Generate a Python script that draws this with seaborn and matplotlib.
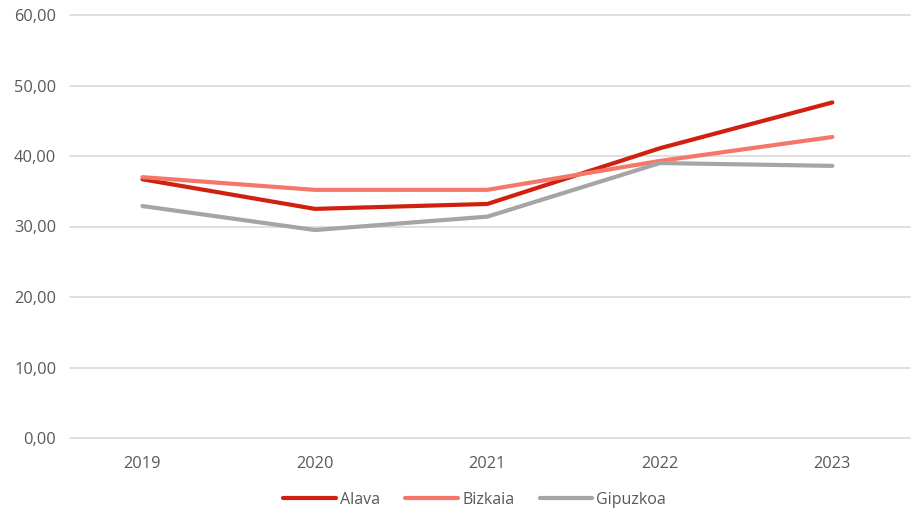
import pandas as pd
import seaborn as sns
import matplotlib.pyplot as plt
from matplotlib.ticker import FuncFormatter

# datos
anios = ["2019", "2020", "2021", "2022", "2023"]
alava = [36.7, 32.5, 33.2, 41.1, 47.6]
bizkaia = [37.0, 35.2, 35.2, 39.3, 42.7]
gipuzkoa = [32.9, 29.5, 31.4, 39.0, 38.6]

series = {"Alava": alava, "Bizkaia": bizkaia, "Gipuzkoa": gipuzkoa}
colores = {"Alava": "#D0200F", "Bizkaia": "#F4776A", "Gipuzkoa": "#A5A5A5"}

df = pd.DataFrame(
    [(a, k, v) for k, vals in series.items() for a, v in zip(anios, vals)],
    columns=["Año", "Territorio", "Valor"],
)
df["x"] = df["Año"].map({a: i for i, a in enumerate(anios)})

sns.set_style("white")
plt.rcParams["font.family"] = ["Open Sans", "DejaVu Sans"]

fig = plt.figure(figsize=(9.11, 5.12), dpi=100)
ax = fig.add_axes([70 / 911, 1 - 438 / 512, 840 / 911, 423 / 512])

sns.lineplot(
    data=df, x="x", y="Valor", hue="Territorio", palette=colores,
    linewidth=3, ax=ax, legend=False,
)
for ln in ax.lines:
    ln.set_solid_capstyle("round")
    ln.set_solid_joinstyle("round")

ax.set_ylim(0, 60)
ax.set_yticks(range(0, 61, 10))
ax.yaxis.set_major_formatter(FuncFormatter(lambda v, p: f"{v:.2f}".replace(".", ",")))
ax.set_xlim(-0.42, 4.45)
ax.set_xticks(range(len(anios)))
ax.set_xticklabels(anios)
ax.grid(axis="y", color="#D9D9D9", linewidth=1.2)
for gl in ax.get_ygridlines():
    gl.set_clip_on(False)
ax.set_axisbelow(True)
for s in ax.spines.values():
    s.set_visible(False)
ax.tick_params(axis="both", length=0, labelsize=11.8, colors="#595959")
ax.tick_params(axis="y", pad=10)
ax.tick_params(axis="x", pad=13)
ax.set_xlabel("")
ax.set_ylabel("")

handles = [plt.Line2D([], [], color=colores[k], lw=3) for k in series]
fig.legend(
    handles, list(series), loc="center", bbox_to_anchor=(0.521, 1 - 500 / 512),
    ncol=3, frameon=False, fontsize=11.5, labelcolor="#595959",
    handlelength=3.3, handletextpad=0.25, columnspacing=1.6,
)

plt.savefig("out.png", dpi=100)
